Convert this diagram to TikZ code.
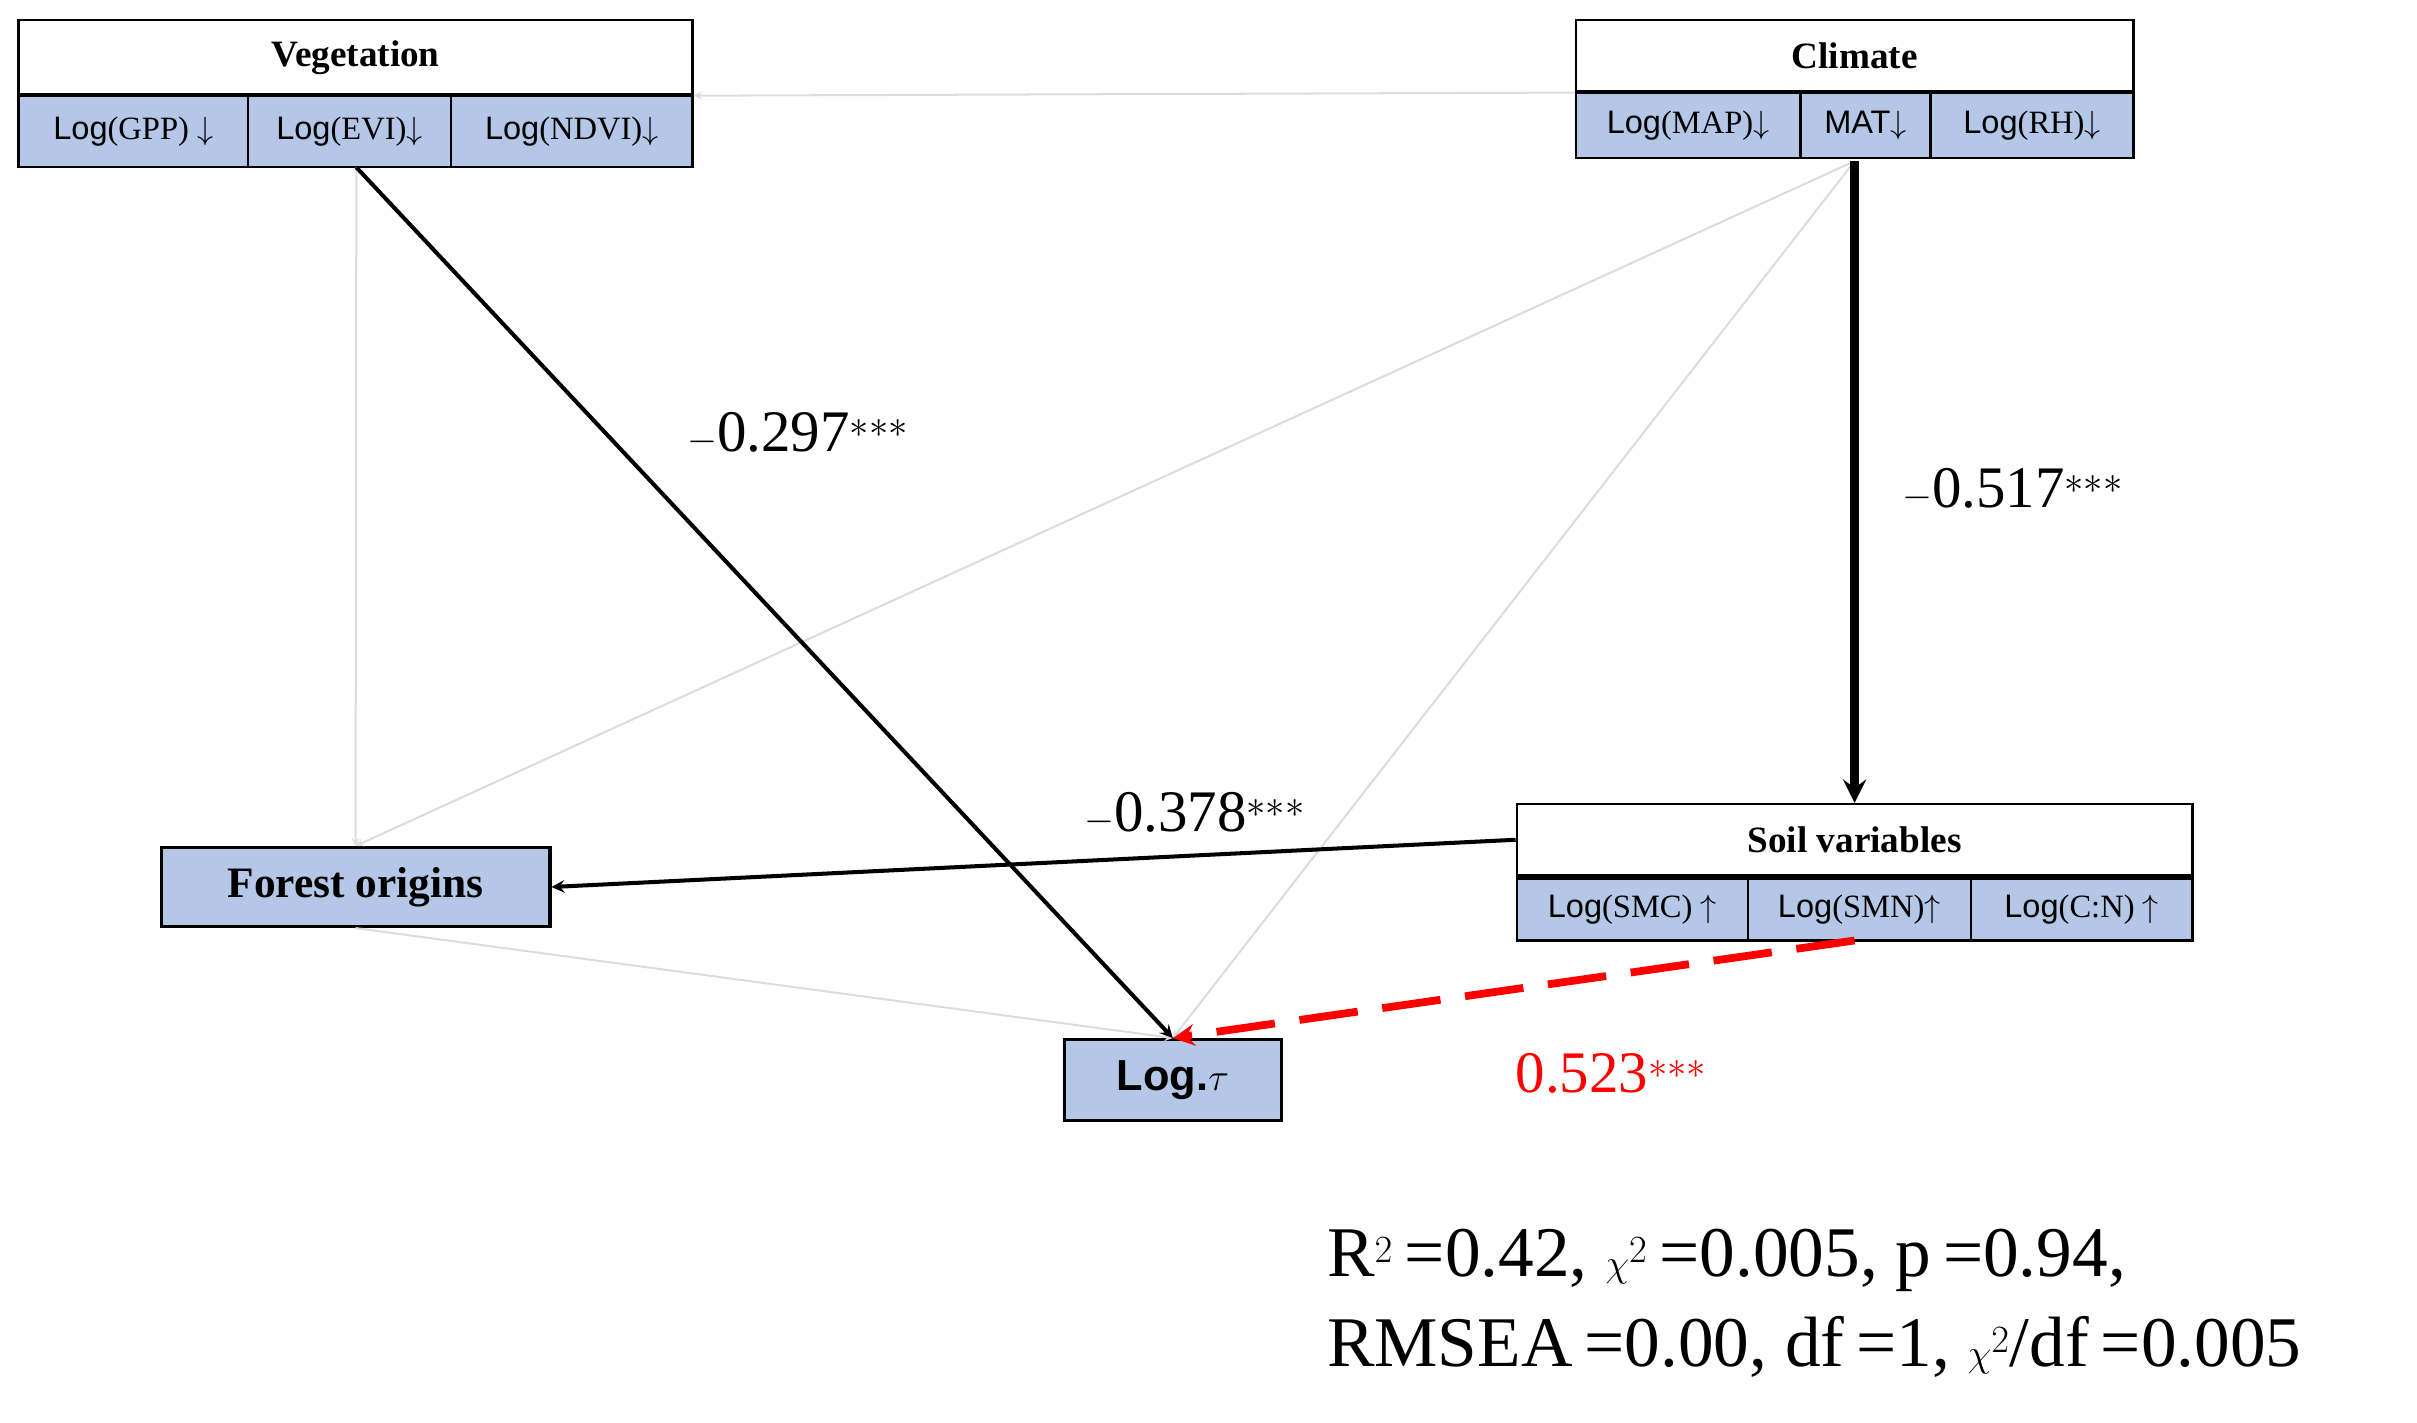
\documentclass[tikz,border=0pt]{standalone}
\usepackage{fontspec}
\setmainfont{Liberation Serif}
\setsansfont{Liberation Sans}
\usetikzlibrary{arrows,calc}
\definecolor{cellblue}{RGB}{180,199,231}
\definecolor{faint}{RGB}{220,220,220}
\tikzstyle{arrow} = [->,>=stealth]
\newcommand{\logof}[1]{\textsf{Log}(#1)}
\begin{document}
\begin{tikzpicture}
[x=1pt,y=-1pt, hdr/.style={rectangle,draw=black,line width=1.5pt,inner sep=0pt,fill=white,font=\fontsize{24}{26}\selectfont\bfseries},
cell/.style={rectangle,draw=black,line width=1.5pt,inner sep=0pt,fill=cellblue,font=\fontsize{21}{23}\selectfont},
var/.style={rectangle,draw=black,line width=2pt,inner sep=0pt,fill=cellblue},
weak/.style={arrow,draw=faint,line width=1.3pt},
strong/.style={arrow,draw=black,line width=2.6pt},
coef/.style={font=\fontsize{38}{40}\selectfont}]
\useasboundingbox (0,0) rectangle (1560,918);
% vegetation block
\node[hdr,minimum width=435,minimum height=48] (veg) at (229.5,37) {Vegetation};
\node[cell,minimum width=148,minimum height=46] (gpp) at (86,85) {\logof{GPP} $\downarrow$};
\node[cell,minimum width=131,minimum height=46] (evi) at (225.5,85) {\logof{EVI}$\downarrow$};
\node[cell,minimum width=156,minimum height=46] (ndvi) at (369,85) {\logof{NDVI}$\downarrow$};
% climate block
\node[hdr,minimum width=360,minimum height=46] (clim) at (1197,36) {Climate};
\node[cell,minimum width=145,minimum height=42] (map) at (1089.5,81) {\logof{MAP}$\downarrow$};
\node[cell,minimum width=84,minimum height=42] (mat) at (1204,81) {\textsf{MAT}$\downarrow$};
\node[cell,minimum width=131,minimum height=42] (rh) at (1311.5,81) {\logof{RH}$\downarrow$};
% soil block
\node[hdr,minimum width=436,minimum height=46] (soil) at (1197,542) {Soil variables};
\node[cell,minimum width=149,minimum height=40] (smc) at (1053.5,587) {\logof{SMC} $\uparrow$};
\node[cell,minimum width=144,minimum height=40] (smn) at (1200,587) {\logof{SMN}$\uparrow$};
\node[cell,minimum width=143,minimum height=40] (cn) at (1343.5,587) {\logof{C:N} $\uparrow$};
% response variables
\node[var,minimum width=251,minimum height=51,font=\fontsize{28}{30}\selectfont\bfseries] (forest) at (229.5,572.5) {Forest origins};
\node[var,minimum width=140,minimum height=52,font=\fontsize{28}{30}\selectfont\sffamily\bfseries] (tau) at (757,697) {Log.$\tau$};
\coordinate (vegb) at (230,108);
\coordinate (climb) at (1197,104);
\coordinate (soilb) at (1197,607);
% paths
\draw[weak] (clim.south west) -- (veg.south east);
\draw[weak] (vegb) -- (forest.north);
\draw[weak] (climb) -- (forest.north);
\draw[weak] (climb) -- (tau.north);
\draw[weak] (forest.south) -- (tau.north);
\draw[strong] (vegb) -- (tau.north);
\draw[arrow,line width=5.5pt] (climb) -- (soil.north);
\draw[strong] (soil.west) -- (forest.east);
\draw[arrow,draw=red,line width=5pt,dash pattern=on 38pt off 16pt] (soilb) -- (tau.north);
% coefficients
\node[coef] (c1) at (515,280) {$-$0.297$^{***}$};
\node[coef] (c2) at (1299,316) {$-$0.517$^{***}$};
\node[coef] (c3) at (771,525) {$-$0.378$^{***}$};
\node[coef,text=red] (c4) at (1040,693) {0.523$^{***}$};
\node[anchor=north west,align=left,font=\fontsize{46}{58}\selectfont] (fit) at (853,790) {R$^2$\,=0.42, $\chi^2$\,=0.005, p\,=0.94,\\RMSEA\,=0.00, df\,=1, $\chi^2$/df\,=0.005};
\end{tikzpicture}
\end{document}
